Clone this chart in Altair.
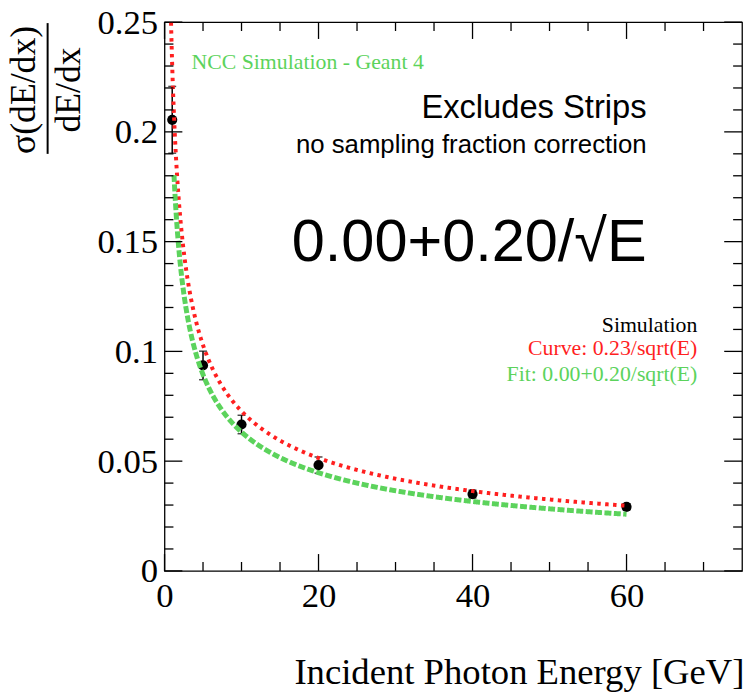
import altair as alt
import pandas as pd

# ---- data ----
energy = [1, 5, 10, 20, 40, 60]
resolution = [0.2055, 0.0936, 0.0667, 0.0482, 0.0350, 0.0292]
res_err = [0.0152, 0.0065, 0.0042, 0.0037, 0.0018, 0.0014]

curve_coef = 0.23          # Curve: 0.23/sqrt(E)
fit_const = 0.00           # Fit: 0.00 + 0.20/sqrt(E)
fit_coef = 0.20
curve_range = [0.80, 60.0]
fit_range = [1.23, 60.0]

x_major = [0, 20, 40, 60]
x_minor = [5, 10, 15, 25, 30, 35, 45, 50, 55, 65, 70]
y_major = [0, 0.05, 0.10, 0.15, 0.20, 0.25]
y_minor = [0.01, 0.02, 0.03, 0.04, 0.06, 0.07, 0.08, 0.09, 0.11, 0.12, 0.13, 0.14,
           0.16, 0.17, 0.18, 0.19, 0.21, 0.22, 0.23, 0.24]

W, H = 583, 554
SERIF = "Liberation Serif"
SANS = "Liberation Sans"
RED = "#ff1f1f"
GREEN = "#5cd35c"

pts = pd.DataFrame({"E": energy, "r": resolution,
                    "lo": [v - e for v, e in zip(resolution, res_err)],
                    "hi": [v + e for v, e in zip(resolution, res_err)]})

xscale = alt.Scale(domain=[0, 75], nice=False, zero=False)
yscale = alt.Scale(domain=[0, 0.25], nice=False, zero=False)

x_axis = alt.Axis(values=x_major, ticks=False, tickSize=0, domain=False, grid=False,
                  labelFont=SERIF, labelFontSize=35, labelColor="#000",
                  labelBaseline="alphabetic", labelPadding=36, labelFlush=False,
                  labelOverlap=False, format="d",
                  title="Incident Photon Energy [GeV]", titleFont=SERIF,
                  titleFontSize=37, titleFontWeight="normal", titleColor="#000",
                  titleAnchor="end", titleAlign="right", titleBaseline="alphabetic",
                  titleX=585, titleY=114)
y_axis = alt.Axis(values=y_major, ticks=False, tickSize=0, domain=False, grid=False,
                  labelFont=SERIF, labelFontSize=35, labelColor="#000",
                  labelBaseline="middle", labelAlign="right", labelPadding=7,
                  labelFlush=False, labelOverlap=False, format="~g",
                  title=["σ(dE/dx)", "dE/dx"], titleFont=SERIF, titleFontSize=36,
                  titleFontWeight="normal", titleColor="#000", titleAngle=270,
                  titleAlign="center", titleBaseline="alphabetic", titleLineHeight=45,
                  titleX=-131, titleY=68)


def X(field):
    return alt.X(field, type="quantitative", scale=xscale, axis=x_axis,
                 title="Incident Photon Energy [GeV]")


def Y(field):
    return alt.Y(field, type="quantitative", scale=yscale, axis=y_axis,
                 title=["σ(dE/dx)", "dE/dx"])


# error bars
err = alt.Chart(pts).mark_rule(color="#000", strokeWidth=1.5).encode(
    x=X("E"), y=Y("lo"), y2="hi")
cap_lo = alt.Chart(pts).mark_tick(color="#000", orient="horizontal", size=8,
                                  thickness=1.5).encode(x=X("E"), y=Y("lo"))
cap_hi = alt.Chart(pts).mark_tick(color="#000", orient="horizontal", size=8,
                                  thickness=1.5).encode(x=X("E"), y=Y("hi"))
points = alt.Chart(pts).mark_circle(color="#000", opacity=1, size=105).encode(
    x=X("E"), y=Y("r"))

# curves
red_curve = alt.Chart(alt.sequence(curve_range[0], curve_range[1] + 1e-6, 0.01, as_="E")
                      ).transform_calculate(
    r=f"{curve_coef}/sqrt(datum.E)"
).mark_line(color=RED, strokeWidth=4, strokeDash=[3.5, 4.5], clip=True).encode(
    x=X("E"), y=Y("r"))
green_curve = alt.Chart(alt.sequence(fit_range[0], fit_range[1] + 1e-6, 0.01, as_="E")
                        ).transform_calculate(
    r=f"{fit_const}+{fit_coef}/sqrt(datum.E)"
).mark_line(color=GREEN, strokeWidth=5, strokeDash=[7, 2.5], clip=True).encode(
    x=X("E"), y=Y("r"))

# frame ticks (ROOT style, pointing inward)
xt_major = pd.DataFrame({"E": x_major})
xt_minor = pd.DataFrame({"E": x_minor})
yt_major = pd.DataFrame({"r": y_major})
yt_minor = pd.DataFrame({"r": y_minor})

tick_style = dict(color="#000", strokeWidth=1.3)
ticks = []
for df, ln in [(xt_major, 17), (xt_minor, 9)]:
    ticks.append(alt.Chart(df).mark_rule(**tick_style).encode(
        x=X("E"), y=alt.value(H), y2=alt.value(H - ln)))
    ticks.append(alt.Chart(df).mark_rule(**tick_style).encode(
        x=X("E"), y=alt.value(0), y2=alt.value(ln)))
for df, ln in [(yt_major, 18), (yt_minor, 9)]:
    ticks.append(alt.Chart(df).mark_rule(**tick_style).encode(
        y=Y("r"), x=alt.value(0), x2=alt.value(ln)))
    ticks.append(alt.Chart(df).mark_rule(**tick_style).encode(
        y=Y("r"), x=alt.value(W), x2=alt.value(W - ln)))

# fraction bar of the y title
frac_bar = alt.Chart(alt.Data(values=[{}])).mark_rule(color="#000", strokeWidth=2).encode(
    x=alt.value(-118), y=alt.value(1), y2=alt.value(133))

# annotations (placed in data coordinates)
def note(E, r, text, font, size, color, align):
    df = pd.DataFrame({"E": [E], "r": [r], "t": [text]})
    return alt.Chart(df).mark_text(font=font, fontSize=size, color=color, align=align,
                                   baseline="alphabetic").encode(
        x=X("E"), y=Y("r"), text="t:N")

notes = [
    note(3.5, 0.2285, "NCC Simulation - Geant 4", SERIF, 22, GREEN, "left"),
    note(62.6, 0.2063, "Excludes Strips", SANS, 33, "#000", "right"),
    note(62.6, 0.1903, "no sampling fraction correction", SANS, 26, "#000", "right"),
    note(62.6, 0.1413, "0.00+0.20/√E", SANS, 60, "#000", "right"),
    note(69.2, 0.1087, "Simulation", SERIF, 22, "#000", "right"),
    note(69.2, 0.0983, "Curve: 0.23/sqrt(E)", SERIF, 22, RED, "right"),
    note(69.2, 0.0866, "Fit: 0.00+0.20/sqrt(E)", SERIF, 22, GREEN, "right"),
]

chart = alt.layer(err, cap_lo, cap_hi, points, red_curve, green_curve, *ticks,
                  frac_bar, *notes).properties(
    width=W, height=H,
    autosize=alt.AutoSizeParams(type="none"),
    padding={"left": 158, "top": 11, "right": 4, "bottom": 120},
    background="#ffffff",
).configure_view(stroke="#000", strokeWidth=1.3)

chart.save("out.html", embed_options={"renderer": "svg", "actions": False})
